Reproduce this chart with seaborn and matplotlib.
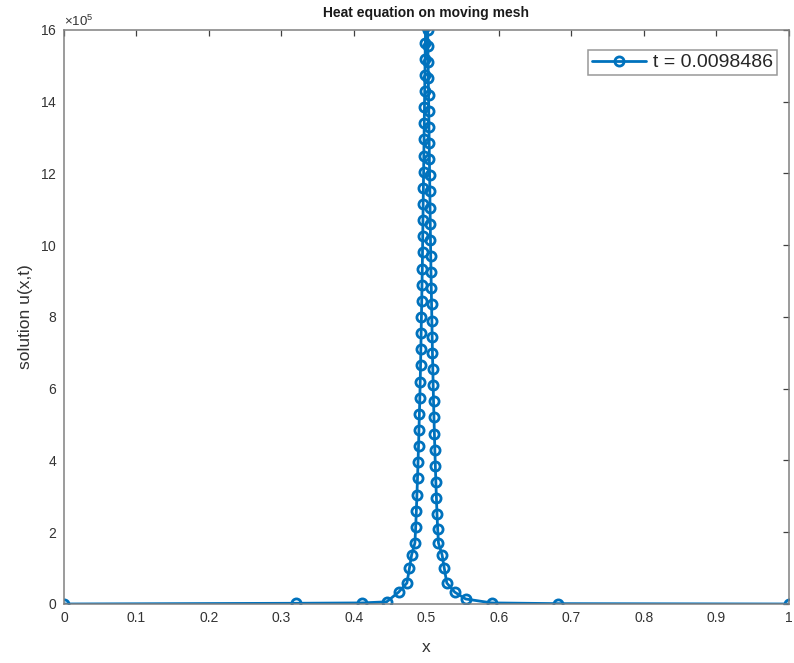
import numpy as np
import pandas as pd
import matplotlib
matplotlib.use("Agg")
import matplotlib.pyplot as plt
import matplotlib.ticker as mticker
import seaborn as sns

# ---- data (u in units of 1e5) ----
left_tail_x = [0.0, 0.3196, 0.4110, 0.4450, 0.4615, 0.4730, 0.4765, 0.4795]
left_tail_u = [0.0, 0.02, 0.03, 0.06, 0.33, 0.585, 1.0, 1.37]

left_x = [0.4840, 0.4851, 0.4860, 0.4868, 0.4876, 0.4883, 0.4890, 0.4896, 0.4902,
          0.4908, 0.4913, 0.4918, 0.4922, 0.4926, 0.4930, 0.4934, 0.4938, 0.4942,
          0.4945, 0.4948, 0.4951, 0.4954, 0.4957, 0.4960, 0.4963, 0.4966, 0.4969,
          0.4972, 0.4975, 0.4978, 0.4981, 0.4984, 0.4988]
left_u = [1.70, 2.15, 2.60, 3.05, 3.50, 3.95, 4.40, 4.85, 5.30, 5.75, 6.20, 6.65,
          7.10, 7.55, 8.00, 8.45, 8.90, 9.35, 9.80, 10.25, 10.70, 11.15, 11.60,
          12.05, 12.50, 12.95, 13.40, 13.85, 14.30, 14.75, 15.20, 15.65, 16.10]

peak_x = [0.5002]
peak_u = [16.9]

right_x = [0.5016, 0.5019, 0.5022, 0.5025, 0.5028, 0.5031, 0.5034, 0.5037, 0.5040,
           0.5043, 0.5046, 0.5049, 0.5052, 0.5055, 0.5058, 0.5062, 0.5066, 0.5070,
           0.5074, 0.5078, 0.5082, 0.5087, 0.5092, 0.5097, 0.5103, 0.5109, 0.5115,
           0.5122, 0.5129, 0.5137, 0.5145, 0.5154, 0.5165]
right_u = [16.00, 15.55, 15.10, 14.65, 14.20, 13.75, 13.30, 12.85, 12.40, 11.95,
           11.50, 11.05, 10.60, 10.15, 9.70, 9.25, 8.80, 8.35, 7.90, 7.45, 7.00,
           6.55, 6.10, 5.65, 5.20, 4.75, 4.30, 3.85, 3.40, 2.95, 2.50, 2.10, 1.70]

right_tail_x = [0.5215, 0.5245, 0.5280, 0.5390, 0.5540, 0.5900, 0.6810, 1.0]
right_tail_u = [1.37, 1.0, 0.585, 0.33, 0.14, 0.03, 0.01, 0.0]

x_ticks = [0, 0.1, 0.2, 0.3, 0.4, 0.5, 0.6, 0.7, 0.8, 0.9, 1]
x_ticklabels = ["0", "0.1", "0.2", "0.3", "0.4", "0.5", "0.6", "0.7", "0.8", "0.9", "1"]
y_ticks = [0, 2, 4, 6, 8, 10, 12, 14, 16]
scale = 1e5
legend_label = "t = 0.0098486"
title = "Heat equation on moving mesh"

# ---- build frame ----
xs = left_tail_x + left_x + peak_x + right_x + right_tail_x
us = left_tail_u + left_u + peak_u + right_u + right_tail_u
df = pd.DataFrame({"x": xs, "u": np.array(us) * scale})

sns.set_theme(style="white")
plt.rcParams["font.family"] = ["Liberation Sans", "DejaVu Sans"]
plt.rcParams["mathtext.fontset"] = "custom"
plt.rcParams["mathtext.rm"] = "Liberation Sans"

fig = plt.figure(figsize=(7.94, 6.63), dpi=100)
ax = fig.add_axes([0.0806, 0.089, 0.9131, 0.8658])

color = "#0072BD"
sns.lineplot(data=df, x="x", y="u", ax=ax, sort=False, estimator=None,
             color=color, linewidth=2.0, marker="o", markersize=6.6,
             markerfacecolor="none", markeredgecolor=color, markeredgewidth=2.0,
             label=legend_label, clip_on=True)

ax.set_xlim(0, 1)
ax.set_ylim(0, 16 * scale)
ax.set_xticks(x_ticks)
ax.set_xticklabels(x_ticklabels)
ax.set_yticks([v * scale for v in y_ticks])
fmt = mticker.ScalarFormatter(useMathText=True)
fmt.set_powerlimits((5, 5))
ax.yaxis.set_major_formatter(fmt)
ax.yaxis.get_offset_text().set_fontsize(9.5)
ax.yaxis.get_offset_text().set_color("#404040")

spine_c = "#808080"
for s in ax.spines.values():
    s.set_visible(True)
    s.set_color(spine_c)
    s.set_linewidth(1.1)
ax.tick_params(direction="in", length=4, width=0.9, color="#404040",
               labelsize=10, labelcolor="#333333", top=True, right=True,
               pad=5)

ax.set_xlabel("x", fontsize=12.5, color="#333333", labelpad=11)
ax.set_ylabel("solution u(x,t)", fontsize=12.5, color="#333333", labelpad=5)
ax.set_title(title, fontsize=10, fontweight="bold", color="#1a1a1a", pad=9)

leg = ax.legend(loc="upper right", bbox_to_anchor=(0.9835, 0.9652),
                fontsize=14, frameon=True, fancybox=False,
                handlelength=2.8, borderaxespad=0.0, borderpad=0.2,
                handletextpad=0.35)
leg.get_frame().set_edgecolor("#808080")
leg.get_frame().set_linewidth(1.1)
for t in leg.get_texts():
    t.set_color("#262626")

fig.savefig("out.png", dpi=100, facecolor="white")
